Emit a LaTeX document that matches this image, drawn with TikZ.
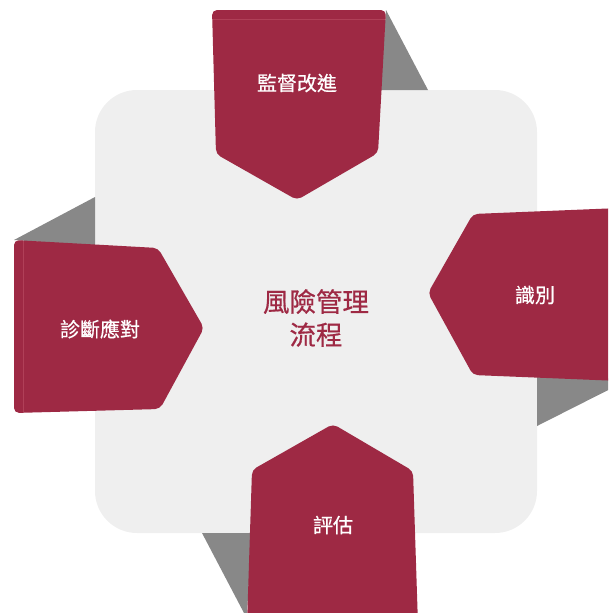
\documentclass[tikz,border=0pt]{standalone}
\usepackage{fontspec}
\newfontfamily\cjk[FakeBold=0.6]{Noto Sans CJK TC}
\definecolor{riskred}{HTML}{9E2944}
\definecolor{foldred}{HTML}{B04058}
\definecolor{shadowgray}{HTML}{888888}
\definecolor{panelgray}{HTML}{EFEFEF}
\tikzset{
  panel/.style={fill=panelgray, draw=none},
  shade/.style={fill=shadowgray, draw=none},
  piece/.style={fill=riskred, draw=none, rounded corners=5pt},
  fold/.style={draw=foldred, line width=0.8pt},
  lbl/.style={text=white, font=\cjk\fontsize{20}{24}\selectfont, inner sep=0pt},
  title/.style={text=riskred, font=\cjk\fontsize{26.5}{33}\selectfont, align=center, inner sep=0pt}
}
\begin{document}
\begin{tikzpicture}[x=1pt,y=-1pt]
\useasboundingbox (0,0) rectangle (608,613);
\clip (0,0) rectangle (608,613);
% background panel
\fill[panel, rounded corners=42pt] (95,90) rectangle (537,533);
% shadows
\fill[shade] (386,10) -- (428,90) -- (380,90) -- cycle;
\fill[shade] (14,240) -- (95,197) -- (95,246) -- cycle;
\fill[shade] (537,376) -- (537,426) -- (630,379) -- cycle;
\fill[shade] (202,533) -- (252,533) -- (247,613) -- (244,613) -- cycle;
% pieces
\fill[piece] (212,10) -- (386,10) -- (378,153) -- (297,200) -- (216,154) -- cycle;
\draw[fold] (213,19) -- (385,19);
\fill[piece] (14,240) -- (158,248) -- (204,328) -- (160,409) -- (14,413) -- cycle;
\draw[fold] (23,241) -- (23,412);
\fill[piece] (620,208) -- (473,214) -- (428,293) -- (473,375) -- (620,381) -- cycle;
\fill[piece] (333,424) -- (413,471) -- (418,625) -- (247,625) -- (252,470) -- cycle;
% labels
\node[lbl] (jiandu) at (297,83) {監督改進};
\node[lbl] (zhenduan) at (100,329) {診斷應對};
\node[lbl] (shibie) at (535,295) {識別};
\node[lbl] (pinggu) at (333,525) {評估};
\node[title] (center) at (316,318) {風險管理\\流程};
\end{tikzpicture}
\end{document}
